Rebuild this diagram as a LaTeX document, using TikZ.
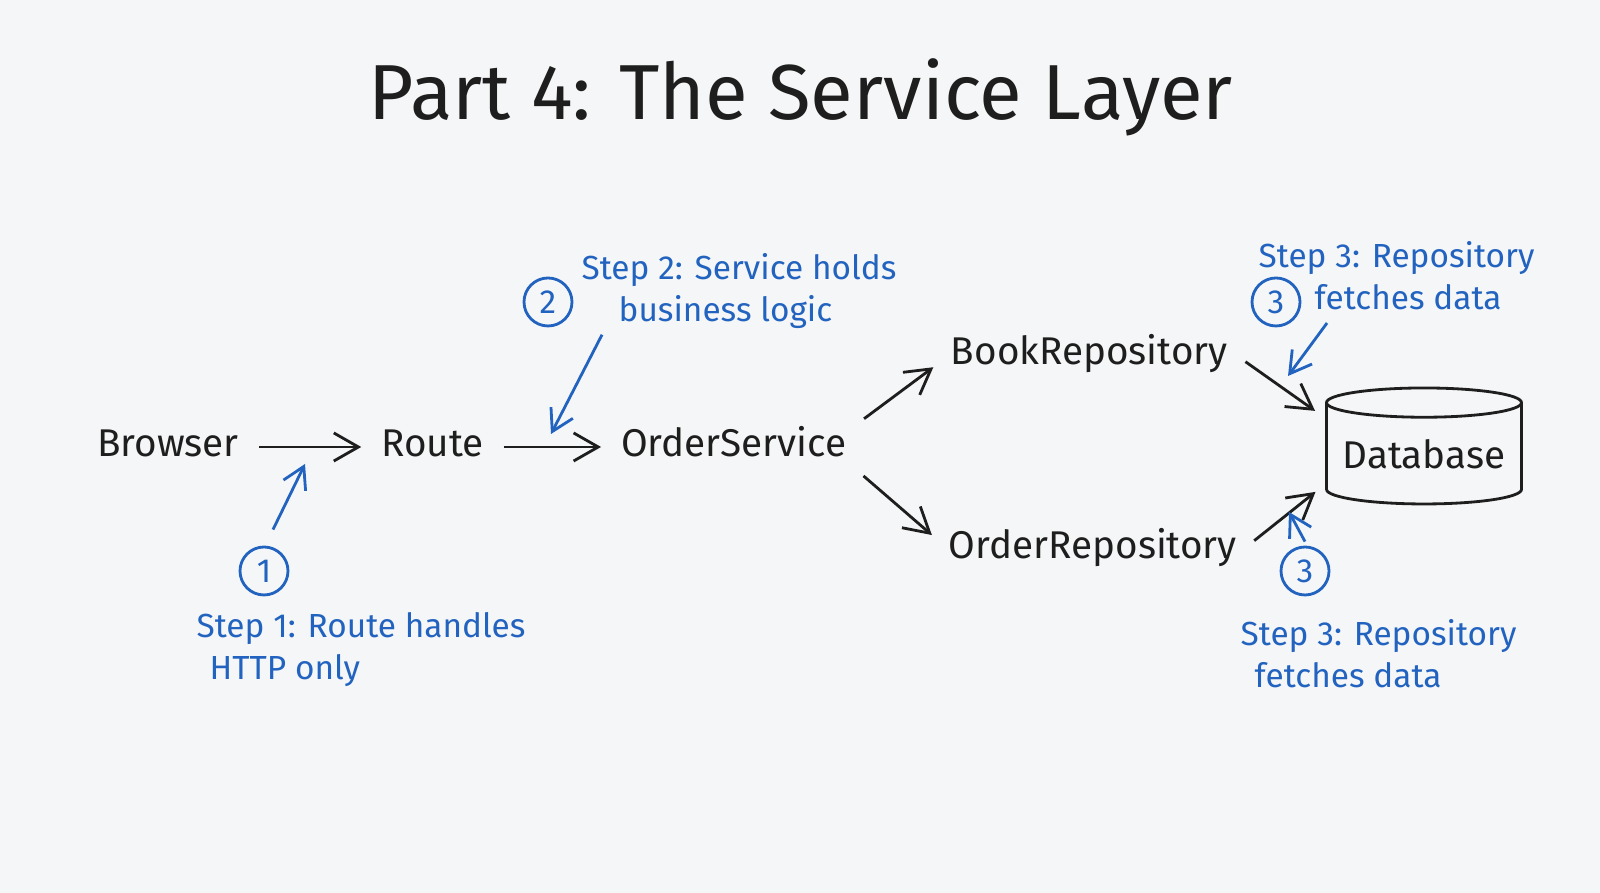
\documentclass[tikz,border=0pt]{standalone}
\usepackage{fontspec}
\setmainfont{Fira Sans}
\usepackage{tikz}
\usetikzlibrary{shapes.geometric,arrows.meta,positioning}
\definecolor{ink}{HTML}{1E1E1E}
\definecolor{pen}{HTML}{2263C0}
\definecolor{paper}{HTML}{F5F6F7}

\begin{document}
\begin{tikzpicture}[
  node distance=1.3cm and 1.3cm,
  every node/.style={font=\fontsize{11}{13}\selectfont, text=ink},
  item/.style={inner sep=2pt, text height=8pt, text depth=2.5pt},
  store/.style={cylinder, shape border rotate=90, aspect=0.18, draw=ink, line width=0.8pt, minimum width=1.95cm, minimum height=1.16cm, inner sep=0pt},
  badge/.style={circle, draw=pen, line width=0.8pt, minimum size=0.48cm, inner sep=0pt, text=pen, font=\fontsize{9.5}{11}\selectfont},
  note/.style={align=left, anchor=north west, inner sep=0pt, text=pen, font=\fontsize{9.5}{12}\selectfont},
  flow/.style={draw=ink, line width=0.8pt, -{Straight Barb[length=7pt,width=8pt]}, shorten <=3.5pt, shorten >=3.5pt},
  hint/.style={draw=pen, line width=0.8pt, -{Straight Barb[length=6pt,width=7pt]}}
]
  \fill[paper] (0,0) rectangle (16,8.93);
  \useasboundingbox (0,0) rectangle (16,8.93);

  \node[font=\fontsize{22.2}{26}\selectfont] (title) at (8.01,7.96) {Part 4: The Service Layer};

  % main chain
  \node[item] (browser) at (1.68,4.46) {Browser};
  \node[item, right=1.27cm of browser] (route) {Route};
  \node[item, right=1.22cm of route] (svc) {OrderService};
  \node[item, above right=0.4cm and 0.89cm of svc] (bookrepo) {BookRepository};
  \node[item, below right=0.49cm and 0.87cm of svc] (orderrepo) {OrderRepository};
  \node[store] (db) at (14.24,4.39) {Database};

  \draw[flow] (browser) -- (route);
  \draw[flow] (route) -- (svc);
  \draw[flow] ([yshift=-1.5pt]svc.north east) -- ([yshift=-1.5pt]bookrepo.west);
  \draw[flow] ([yshift=1.5pt]svc.south east) -- ([yshift=1.5pt]orderrepo.west);
  \draw[flow] (bookrepo.east) -- (db.160);
  \draw[flow] (orderrepo.east) -- (db.197);

  % step badges and notes
  \node[badge] (c1) at (2.64,3.22) {1};
  \node[badge] (c2) at (5.48,5.91) {2};
  \node[badge] (c3a) at (12.76,5.91) {3};
  \node[badge] (c3b) at (13.05,3.22) {3};

  \node[note] (n1) at (1.96,2.81) {Step 1: Route handles\\\hspace*{0.13cm}HTTP only};
  \node[note] (n2) at (5.81,6.40) {Step 2: Service holds\\\hspace*{0.37cm}business logic};
  \node[note] (n3a) at (12.58,6.52) {Step 3: Repository\\\hspace*{0.56cm}fetches data};
  \node[note] (n3b) at (12.40,2.74) {Step 3: Repository\\\hspace*{0.14cm}fetches data};

  \coordinate (tip1) at (3.05,4.29);
  \coordinate (tip2) at (5.51,4.59);
  \coordinate (tip3a) at (12.88,5.17);
  \coordinate (tip3b) at (12.89,3.81);

  \draw[hint] ([xshift=0.09cm, yshift=0.16cm]c1.north) -- (tip1);
  \draw[hint] ([xshift=0.21cm, yshift=-0.05cm]n2.south west) -- (tip2);
  \draw[hint] ([xshift=0.69cm, yshift=-0.12cm]n3a.south west) -- (tip3a);
  \draw[hint] ([yshift=0.04cm]c3b.north) -- (tip3b);
\end{tikzpicture}
\end{document}
